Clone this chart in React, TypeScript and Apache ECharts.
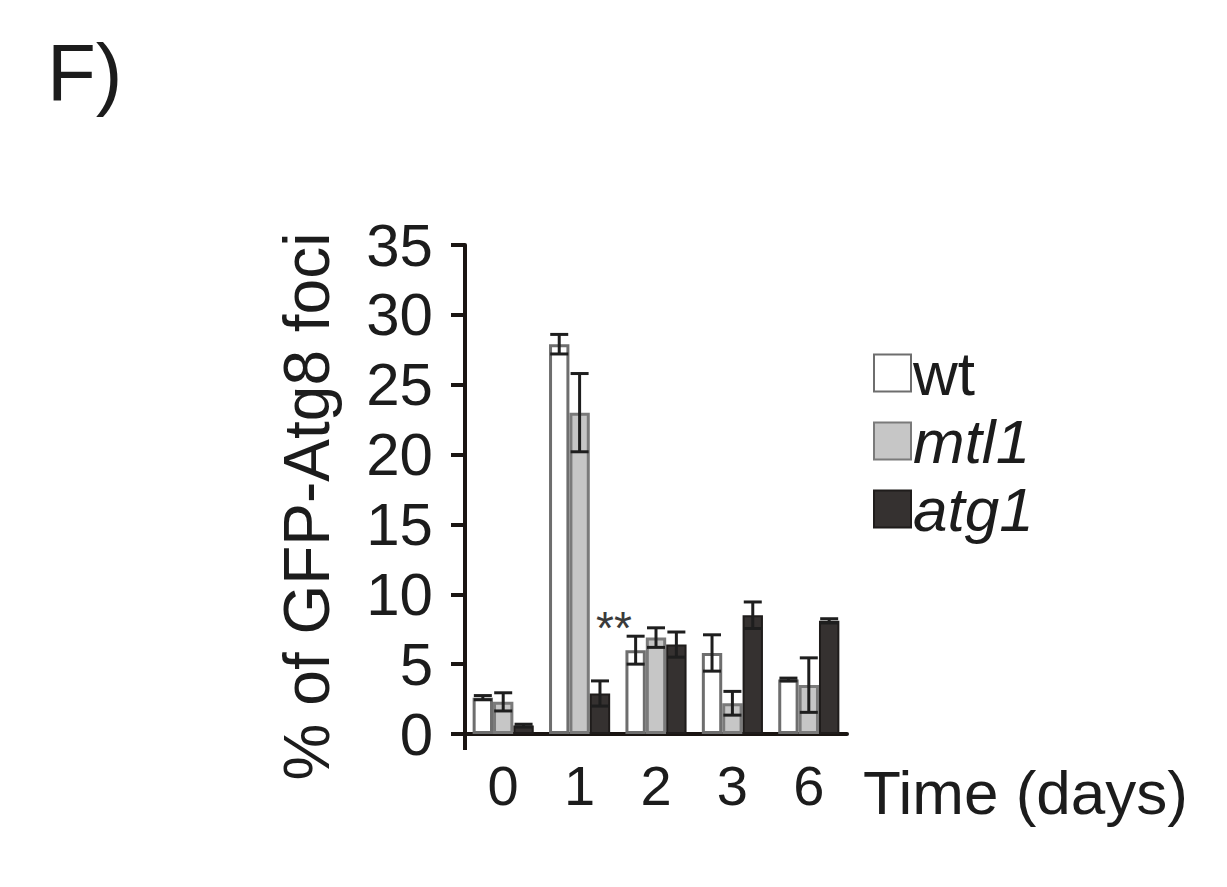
import React, { useEffect, useRef } from "react";
import * as echarts from "echarts";

const categories = ["0", "1", "2", "3", "6"];
const seriesNames = ["wt", "mtl1", "atg1"];
const wtValues = [2.6, 27.9, 6.0, 5.8, 3.9];
const wtErrors = [0.15, 0.7, 1.0, 1.3, 0.1];
const mtl1Values = [2.3, 23.0, 6.9, 2.2, 3.5];
const mtl1Errors = [0.65, 2.8, 0.7, 0.85, 1.95];
const atg1Values = [0.6, 2.9, 6.4, 8.5, 8.1];
const atg1Errors = [0.1, 0.9, 0.9, 0.95, 0.15];
const yMin = 0;
const yMax = 35;
const yInterval = 5;
const significance = { category: "1", value: 8.0, text: "**" };

const FONT = "'Liberation Sans', Arial, Helvetica, sans-serif";
const TEXT = "#1c1c1c";
const AXIS = "#1a1512";

export default function App() {
  const ref = useRef<HTMLDivElement>(null);
  useEffect(() => {
    document.body.style.margin = "0";
    const chart = echarts.init(ref.current!, null, { renderer: "svg" });
    const values = [wtValues, mtl1Values, atg1Values];
    const errors = [wtErrors, mtl1Errors, atg1Errors];
    const errData: number[][] = [];
    values.forEach((vals, k) => {
      vals.forEach((v, i) => errData.push([i, v, errors[k][i], k]));
    });
    const barStyles = [
      { color: "#ffffff", borderColor: "#6e6e6e", borderWidth: 3 },
      { color: "#c6c6c6", borderColor: "#7a7a7a", borderWidth: 3 },
      { color: "#353130", borderColor: "#1f1c1b", borderWidth: 2 },
    ];
    chart.setOption({
      animation: false,
      backgroundColor: "#ffffff",
      title: {
        text: "F)",
        left: 42,
        top: 27,
        textStyle: { fontFamily: FONT, fontSize: 80, fontWeight: "normal", color: TEXT },
      },
      legend: {
        orient: "vertical",
        left: 868,
        top: 337,
        itemWidth: 37,
        itemHeight: 37,
        itemGap: 6,
        icon: "rect",
        textStyle: { fontFamily: FONT, fontSize: 62, color: TEXT, padding: [0, 0, 0, -3], lineHeight: 60 },
        data: [
          { name: "wt" },
          { name: "mtl1", textStyle: { fontStyle: "italic" } },
          { name: "atg1", textStyle: { fontStyle: "italic" } },
        ],
      },
      grid: { left: 465, right: 380, top: 245, bottom: 153, containLabel: false },
      xAxis: {
        type: "category",
        data: categories,
        name: "Time (days)",
        nameLocation: "end",
        nameGap: 16,
        nameTextStyle: {
          fontFamily: FONT,
          fontSize: 62,
          color: TEXT,
          align: "left",
          verticalAlign: "top",
          padding: [27, 0, 0, 0],
        },
        axisLine: { lineStyle: { color: AXIS, width: 4 } },
        axisTick: { show: false },
        axisLabel: { fontFamily: FONT, fontSize: 56, color: TEXT, margin: 23 },
      },
      yAxis: {
        type: "value",
        min: yMin,
        max: yMax,
        interval: yInterval,
        name: "% of GFP-Atg8 foci",
        nameLocation: "middle",
        nameGap: 126,
        nameTextStyle: { fontFamily: FONT, fontSize: 64, color: TEXT, padding: [0, 34, 0, 0] },
        axisLine: { show: true, lineStyle: { color: AXIS, width: 4 } },
        axisTick: { show: true, inside: false, length: 14, lineStyle: { color: AXIS, width: 4 } },
        splitLine: { show: false },
        axisLabel: { fontFamily: FONT, fontSize: 60, color: TEXT, margin: 32 },
      },
      series: [
        ...seriesNames.map((name, k) => ({
          name,
          type: "bar",
          data: values[k],
          barGap: "0%",
          barCategoryGap: "20%",
          itemStyle: barStyles[k],
          markPoint:
            k === 2
              ? {
                  symbol: "rect",
                  symbolSize: 0,
                  data: [{ coord: [significance.category, significance.value] }],
                  label: {
                    show: true,
                    position: "inside",
                    formatter: significance.text,
                    fontFamily: FONT,
                    fontSize: 46,
                    color: "#3a3a3a",
                    offset: [14, 6],
                  },
                }
              : undefined,
        })),
        {
          type: "custom",
          name: "errors",
          data: errData,
          z: 10,
          encode: { x: 0, y: 1 },
          renderItem: (params: any, api: any) => {
            const ci = api.value(0);
            const v = api.value(1);
            const e = api.value(2);
            const k = api.value(3);
            const band = api.size([1, 0])[0];
            const bw = (band * 0.8) / 3;
            const c = api.coord([ci, v]);
            const x = c[0] + (k - 1) * bw;
            const top = api.coord([ci, v + e])[1];
            const bot = api.coord([ci, v - e])[1];
            const half = 9;
            const style = { stroke: "#1e1e1e", lineWidth: 3 };
            return {
              type: "group",
              children: [
                { type: "line", shape: { x1: x, y1: top, x2: x, y2: bot }, style },
                { type: "line", shape: { x1: x - half, y1: top, x2: x + half, y2: top }, style },
                { type: "line", shape: { x1: x - half, y1: bot, x2: x + half, y2: bot }, style },
              ],
            };
          },
        },
      ],
    });
    // small axis-line overhangs at the origin, positioned through the axes
    const origin = chart.convertToPixel({ gridIndex: 0 }, [0, yMin]) as number[];
    const x0 = chart.convertToPixel({ xAxisIndex: 0 }, 0) as number;
    const band = (chart.convertToPixel({ xAxisIndex: 0 }, 1) as number) - x0;
    const left = x0 - band / 2;
    chart.setOption({
      graphic: [
        { type: "line", shape: { x1: left - 12, y1: origin[1], x2: left, y2: origin[1] }, style: { stroke: AXIS, lineWidth: 4 } },
        { type: "line", shape: { x1: left, y1: origin[1], x2: left, y2: origin[1] + 16 }, style: { stroke: AXIS, lineWidth: 4 } },
      ],
    });
    return () => chart.dispose();
  }, []);
  return (
    <div
      ref={ref}
      style={{ position: "fixed", left: 0, top: 0, width: 1227, height: 887, background: "#fff" }}
    />
  );
}
